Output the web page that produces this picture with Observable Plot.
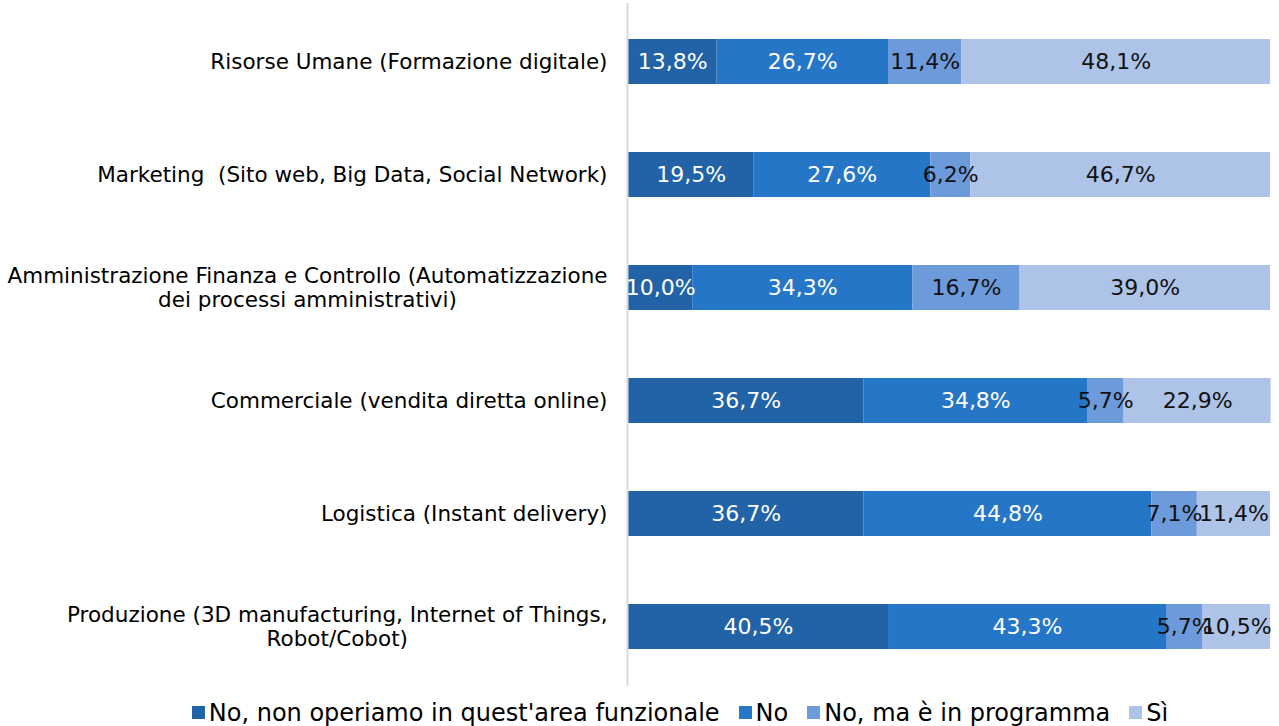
<!DOCTYPE html>
<html>
<head>
<meta charset="utf-8">
<script src="https://cdn.jsdelivr.net/npm/d3@7"></script>
<script src="https://cdn.jsdelivr.net/npm/@observablehq/plot@0.6"></script>
<style>
  html, body { margin: 0; padding: 0; background: #fff; }
  body { width: 1279px; font-family: "DejaVu Sans", Verdana, sans-serif; }
  #legend { display: flex; justify-content: center; padding-top: 6px; padding-left: 100px; }
  #legend div[class$="-swatches-wrap"] { justify-content: center; }
  #legend span[class$="-swatch"] { margin-right: 19px !important; }
  #legend span[class$="-swatch"] svg { margin-right: 4px !important; }
</style>
</head>
<body>
<div id="chart"></div>
<div id="legend"></div>
<script>
const categories = [
  "Risorse Umane (Formazione digitale)",
  "Marketing  (Sito web, Big Data, Social Network)",
  "Amministrazione Finanza e Controllo (Automatizzazione\ndei processi amministrativi)",
  "Commerciale (vendita diretta online)",
  "Logistica (Instant delivery)",
  "Produzione (3D manufacturing, Internet of Things,\nRobot/Cobot)"
];
const seriesNames = [
  "No, non operiamo in quest'area funzionale",
  "No",
  "No, ma è in programma",
  "Sì"
];
const seriesColors = ["#2163a6", "#2676c8", "#6c9adb", "#aec3e8"];
const valNonOperiamo = [13.8, 19.5, 10.0, 36.7, 36.7, 40.5];
const valNo          = [26.7, 27.6, 34.3, 34.8, 44.8, 43.3];
const valProgramma   = [11.4,  6.2, 16.7,  5.7,  7.1,  5.7];
const valSi          = [48.1, 46.7, 39.0, 22.9, 11.4, 10.5];

const seriesValues = [valNonOperiamo, valNo, valProgramma, valSi];
const data = [];
categories.forEach((cat, i) => {
  seriesNames.forEach((s, j) => {
    data.push({cat, series: s, si: j, value: seriesValues[j][i]});
  });
});

const fmt = v => v.toFixed(1).replace(".", ",") + "%";
const FONT = '"DejaVu Sans", Verdana, sans-serif';
const labelSize = 21.5;

// measure category label widths to centre multi-line labels in a right-aligned block
const ctx = document.createElement("canvas").getContext("2d");
ctx.font = `${labelSize}px "DejaVu Sans"`;
const blockW = c => Math.max(...c.split("\n").map(l => ctx.measureText(l).width));

const marginLeft = 628;
const gap = 21;

const labelMarks = categories.map(c => Plot.text([c], {
  y: d => d,
  text: d => d,
  frameAnchor: "left",
  textAnchor: "middle",
  dx: -(gap + blockW(c) / 2),
  dy: -1,
  lineHeight: 1.14,
  fontSize: labelSize,
  fill: "#000"
}));

const chart = Plot.plot({
  width: 1279,
  height: 690,
  marginLeft,
  marginRight: 9,
  marginTop: 3,
  marginBottom: 4,
  style: {fontFamily: FONT, background: "#fff"},
  x: {domain: [0, 100], axis: null},
  y: {domain: categories, axis: null, paddingInner: 0.6, paddingOuter: 0.3},
  color: {domain: seriesNames, range: seriesColors},
  marks: [
    Plot.barX(data, Plot.stackX({x: "value", y: "cat", fill: "series", inset: 0})),
    Plot.ruleX([0], {stroke: "#d9d9d9", strokeWidth: 2, dx: -1}),
    Plot.text(data.filter(d => d.si < 2), Plot.stackX({
      x: "value", y: "cat", z: "series", text: d => fmt(d.value),
      fill: "#fff", fontSize: 22
    })),
    Plot.text(data, Plot.stackX({
      x: "value", y: "cat", z: "series",
      text: d => d.si >= 2 ? fmt(d.value) : "",
      fill: "#111", fontSize: 22
    })),
    ...labelMarks
  ]
});
document.getElementById("chart").appendChild(chart);

const legend = Plot.legend({
  color: {domain: seriesNames, range: seriesColors},
  legend: "swatches",
  swatchSize: 13,
  style: {fontFamily: FONT, fontSize: "24px", color: "#000"}
});
document.getElementById("legend").appendChild(legend);
</script>
</body>
</html>
